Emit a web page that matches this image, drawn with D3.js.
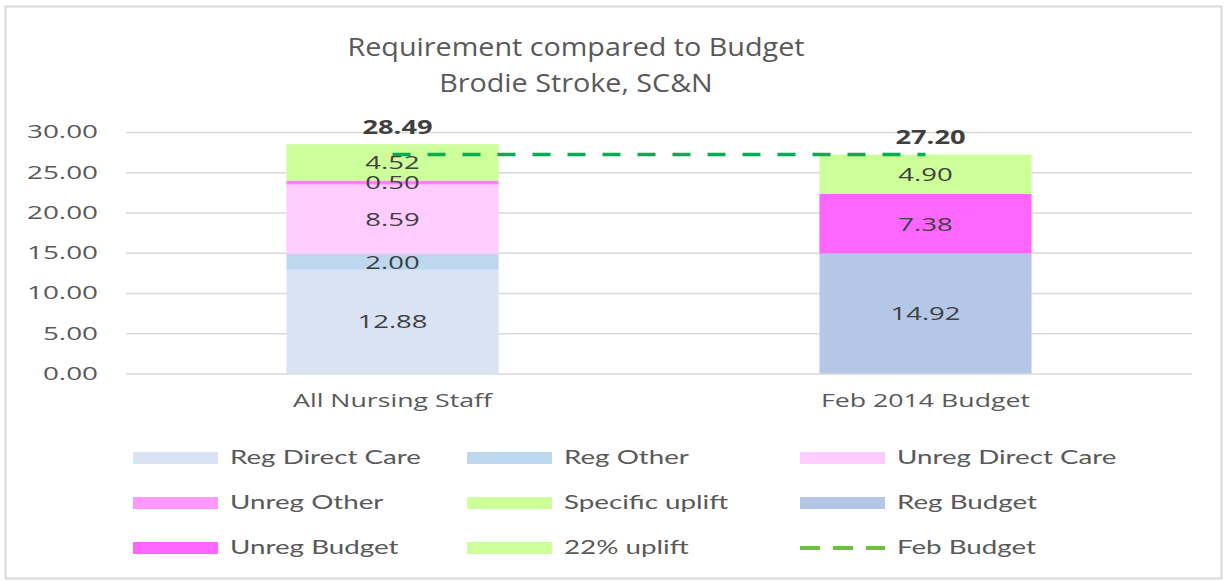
<!DOCTYPE html>
<html><head><meta charset="utf-8">
<script src="https://cdn.jsdelivr.net/npm/d3@7"></script>
<style>
html,body{margin:0;padding:0;background:#fff;}
svg{display:block;}
</style></head>
<body>
<svg id="chart" width="1227" height="581"></svg>
<script>
// ---- data ----
const categories = ["All Nursing Staff", "Feb 2014 Budget"];
const seriesKeys = ["Reg Direct Care","Reg Other","Unreg Direct Care","Unreg Other","Specific uplift","Reg Budget","Unreg Budget","22% uplift"];
const regDirectCare   = [12.88, 0];
const regOther        = [2.00, 0];
const unregDirectCare = [8.59, 0];
const unregOther      = [0.50, 0];
const specificUplift  = [4.52, 0];
const regBudget       = [0, 14.92];
const unregBudget     = [0, 7.38];
const uplift22        = [0, 4.90];
const febBudget       = [27.20, 27.20];
const yTicks = [0, 5, 10, 15, 20, 25, 30];
const titleLines = ["Requirement compared to Budget", "Brodie Stroke, SC&N"];
const legendOrder = ["Reg Direct Care","Reg Other","Unreg Direct Care","Unreg Other","Specific uplift","Reg Budget","Unreg Budget","22% uplift","Feb Budget"];

const seriesValues = [regDirectCare, regOther, unregDirectCare, unregOther, specificUplift, regBudget, unregBudget, uplift22];
const colors = {
  "Reg Direct Care":"#dae3f3","Reg Other":"#bdd7ee","Unreg Direct Care":"#ffccff",
  "Unreg Other":"#ff99ff","Specific uplift":"#ccff99","Reg Budget":"#b4c7e7",
  "Unreg Budget":"#ff66ff","22% uplift":"#ccff99"
};
const barColors = Object.assign({}, colors, {"Unreg Other":"#ff80ff"});

const rows = categories.map((c,i)=>{
  const r = {cat:c};
  seriesKeys.forEach((k,j)=>r[k]=seriesValues[j][i]);
  return r;
});
const totals = rows.map(r=>d3.sum(seriesKeys, k=>r[k]));

const svg = d3.select("#chart");
const W = 1227, H = 581;
const TXT = "#595959";
const FONT = "'Open Sans', 'DejaVu Sans', sans-serif";

function stretch(sel, ref, target){
  // horizontal stretch of text so that the reference string has the target width
  const tmp = svg.append("text").style("font-family", sel.style("font-family")).style("font-size", sel.style("font-size")).style("font-weight", sel.style("font-weight")).text(ref);
  const f = target / tmp.node().getComputedTextLength();
  tmp.remove();
  sel.each(function(){
    const w = this.getComputedTextLength();
    d3.select(this).attr("textLength", w*f).attr("lengthAdjust","spacingAndGlyphs");
  });
}

// border
svg.append("rect").attr("x",5.5).attr("y",6.5).attr("width",W-11).attr("height",H-9)
  .attr("fill","#fff").attr("stroke","#d9d9d9").attr("stroke-width",2);

// scales
const x = d3.scaleBand().domain(categories).range([126,1192]).paddingInner(0.602).paddingOuter(0.301);
const y = d3.scaleLinear().domain([0,30]).range([373.5,132]);

// title
const title = svg.append("g").selectAll("text").data(titleLines).join("text")
  .attr("x",576).attr("y",(d,i)=>47+i*36).attr("dy","0.35em").attr("text-anchor","middle")
  .style("font-family",FONT).style("font-size","25px").attr("fill",TXT).text(d=>d);
stretch(title, titleLines[0], 457);

// y axis with gridlines
const yAxis = d3.axisLeft(y).tickValues(yTicks).tickFormat(d3.format(".2f")).tickSize(-(1192-126)).tickPadding(28);
const gy = svg.append("g").attr("transform","translate(126,0)").call(yAxis);
gy.select(".domain").remove();
gy.selectAll(".tick line").attr("stroke","#d9d9d9").attr("stroke-width",1.5);
const yt = gy.selectAll(".tick text").style("font-family",FONT).style("font-size","18.5px").attr("fill",TXT);
stretch(yt, "30.00", 71);

// x axis labels
const xAxis = d3.axisBottom(x).tickSize(0).tickPadding(20);
const gx = svg.append("g").attr("transform","translate(0,373.5)").call(xAxis);
gx.select(".domain").remove();
const xt = gx.selectAll(".tick text").style("font-family",FONT).style("font-size","19px").attr("fill",TXT);
stretch(xt, "All Nursing Staff", 199);

// stacked bars
const stack = d3.stack().keys(seriesKeys)(rows);
const gBars = svg.append("g");
stack.forEach(layer=>{
  gBars.selectAll(null).data(layer.filter(d=>d.data[layer.key]>0)).join("rect")
    .attr("x",d=>x(d.data.cat)).attr("width",x.bandwidth())
    .attr("y",d=>y(d[1])).attr("height",d=>y(d[0])-y(d[1]))
    .attr("fill",barColors[layer.key]);
});

// Feb budget dashed line
const line = d3.line().x(d=>x(d.cat)+x.bandwidth()/2).y(d=>y(d.v));
svg.append("path").datum(categories.map((c,i)=>({cat:c,v:febBudget[i]})))
  .attr("d",line).attr("fill","none").attr("stroke","#00b050").attr("stroke-width",3.5)
  .attr("stroke-dasharray","18,17");

// segment labels
const gLab = svg.append("g");
stack.forEach(layer=>{
  gLab.selectAll(null).data(layer.filter(d=>d.data[layer.key]>0)).join("text")
    .attr("class","seglab")
    .attr("x",d=>x(d.data.cat)+x.bandwidth()/2).attr("y",d=>y((d[0]+d[1])/2))
    .attr("dy","0.36em").attr("text-anchor","middle")
    .style("font-family",FONT).style("font-size","19px").attr("fill","#404040")
    .text(d=>d3.format(".2f")(d.data[layer.key]));
});
stretch(gLab.selectAll("text"), "12.88", 70);

// totals
const tl = svg.append("g").selectAll("text").data(categories).join("text")
  .attr("x",c=>x(c)+x.bandwidth()/2+5).attr("y",(c,i)=>y(totals[i])-17).attr("dy","0.36em")
  .attr("text-anchor","middle").style("font-family",FONT).style("font-size","19px").style("font-weight","bold")
  .attr("fill","#404040").text((c,i)=>d3.format(".2f")(totals[i]));
stretch(tl, "28.49", 70);

// legend
const colX = [133, 467, 800];
const rowY = [458, 503, 548];
const LFONT = "Lato, 'Open Sans', sans-serif";
const gLeg = svg.append("g");
legendOrder.forEach((name,i)=>{
  const cx = colX[i%3], cy = rowY[Math.floor(i/3)];
  const g = gLeg.append("g").attr("transform",`translate(${cx},${cy})`);
  if(name==="Feb Budget"){
    g.append("line").attr("x1",0).attr("x2",85).attr("y1",0).attr("y2",0)
      .attr("stroke","#70c040").attr("stroke-width",4).attr("stroke-dasharray","20,13");
  } else {
    g.append("rect").attr("x",0).attr("y",-6).attr("width",85).attr("height",12).attr("fill",colors[name]);
  }
  g.append("text").attr("class","legtext").attr("x",97).attr("y",0).attr("dy","0.35em")
    .style("font-family",LFONT).style("font-size","18.5px").attr("fill",TXT).text(name);
});
stretch(gLeg.selectAll("text"), "Reg Direct Care", 191);
</script>
</body></html>
